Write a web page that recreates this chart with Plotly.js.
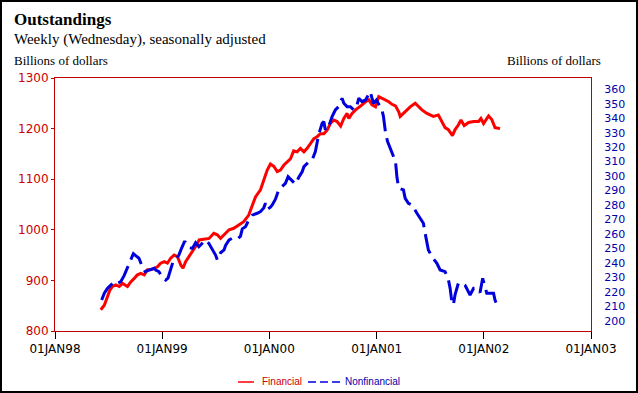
<!DOCTYPE html>
<html><head><meta charset="utf-8">
<script src="https://cdn.plot.ly/plotly-3.0.1.min.js"></script>
<style>html,body{margin:0;padding:0;background:#fff}#chart{width:638px;height:393px}</style>
</head><body><div id="chart"></div>
<script>
const seriesNames = ['Financial', 'Nonfinancial'];

const finDates = [
'1998-06-06','1998-06-18','1998-06-29','1998-07-07','1998-07-16','1998-07-27','1998-08-08','1998-08-19','1998-09-05','1998-09-16','1998-09-28','1998-10-09','1998-10-20','1998-11-01','1998-11-12','1998-11-23','1998-12-05','1998-12-16','1998-12-27',
'1999-01-08','1999-01-19','1999-01-30','1999-02-11','1999-02-22','1999-03-06','1999-03-13','1999-03-22','1999-04-03','1999-04-14','1999-04-25','1999-05-07','1999-05-23','1999-06-10','1999-06-26','1999-07-08','1999-07-19','1999-07-31','1999-08-17','1999-09-02','1999-09-19','1999-10-06','1999-10-23','1999-11-04','1999-11-15','1999-12-02','1999-12-13','1999-12-25',
'2000-01-05','2000-01-17','2000-01-28','2000-02-08','2000-02-20','2000-03-02','2000-03-13','2000-03-24','2000-04-05','2000-04-16','2000-04-28','2000-05-09','2000-05-20','2000-06-01','2000-06-12','2000-06-23','2000-07-05','2000-07-16','2000-07-27','2000-08-08','2000-08-19','2000-08-31','2000-09-11','2000-09-22','2000-09-28','2000-10-09','2000-10-21','2000-11-01','2000-11-12','2000-11-24','2000-12-05','2000-12-16','2000-12-28',
'2001-01-08','2001-01-19','2001-01-31','2001-02-11','2001-02-22','2001-03-06','2001-03-17','2001-03-22','2001-04-02','2001-04-14','2001-04-25','2001-05-12','2001-05-23','2001-06-04','2001-06-21','2001-07-02','2001-07-13','2001-07-30','2001-08-11','2001-08-22','2001-09-02','2001-09-16','2001-09-25','2001-10-06','2001-10-15','2001-10-26','2001-11-10','2001-11-27','2001-12-14','2001-12-22','2001-12-31',
'2002-01-17','2002-01-28','2002-02-08','2002-02-25'];
const finValues = [
842,851,868,881,888,891,888,894,888,897,904,911,914,911,921,921,924,927,934,
937,934,944,950,947,930,924,937,947,957,967,980,982,983,993,990,983,990,1000,1003,1009,1016,1029,1049,1065,1079,1098,1118,
1130,1125,1115,1118,1128,1135,1140,1156,1154,1161,1154,1161,1171,1180,1184,1190,1190,1197,1210,1217,1214,1205,1220,1230,1220,1230,1237,1243,1247,1253,1257,1247,1243,
1263,1260,1257,1253,1248,1245,1233,1224,1230,1237,1243,1250,1243,1237,1230,1227,1224,1227,1215,1202,1198,1186,1198,1207,1217,1206,1212,1214,1214,1220,1210,
1225,1218,1202,1200];

const nonfinDates = [
'1998-06-09','1998-06-18','1998-06-29','1998-07-10','1998-07-22','1998-08-02','1998-08-13','1998-08-24','1998-09-05','1998-09-16','1998-09-25','1998-10-03','1998-10-14','1998-10-26','1998-11-04','1998-11-17','1998-12-05','1998-12-10','1998-12-21',
'1999-01-02','1999-01-13','1999-01-21','1999-01-30','1999-02-07','1999-02-16','1999-02-27','1999-03-08','1999-03-19','1999-03-28','1999-04-02','1999-04-14','1999-04-25','1999-05-06','1999-05-18','1999-05-29','1999-06-09','1999-06-21','1999-07-02','1999-07-08','1999-07-19','1999-07-31','1999-08-05','1999-08-17','1999-08-28','1999-09-14','1999-09-25','1999-10-01','1999-10-12','1999-10-23','1999-11-04','1999-11-21','1999-12-02','1999-12-13','1999-12-19','1999-12-25',
'2000-01-05','2000-01-11','2000-01-22','2000-02-02','2000-02-14','2000-02-25','2000-03-05','2000-03-19','2000-03-30','2000-04-10','2000-04-22','2000-04-28','2000-05-15','2000-05-26','2000-06-06','2000-06-17','2000-06-29','2000-07-05','2000-07-10','2000-07-21','2000-08-02','2000-08-13','2000-08-24','2000-09-05','2000-09-11','2000-09-22','2000-10-03','2000-10-15','2000-10-26','2000-11-01','2000-11-12','2000-11-24','2000-12-01','2000-12-10','2000-12-16','2000-12-21','2000-12-31',
'2001-01-08','2001-01-19','2001-01-24','2001-01-31','2001-02-07','2001-02-16','2001-02-27','2001-03-06','2001-03-11','2001-03-17','2001-04-02','2001-04-08','2001-04-19','2001-05-01','2001-05-18','2001-05-29','2001-06-09','2001-06-15','2001-06-21','2001-06-26','2001-07-08','2001-07-25','2001-08-05','2001-08-22','2001-09-02','2001-09-08','2001-09-14','2001-09-19','2001-09-25','2001-10-01','2001-10-06','2001-10-18','2001-10-29','2001-11-15','2001-11-27','2001-12-08','2001-12-19','2001-12-28',
'2002-01-06','2002-01-11','2002-02-03','2002-02-08','2002-02-20'];
const nonfinValues = [
214.3,219,222.4,224.7,227,226,227,231,237.3,242,246.4,245,243.2,237,234,235,236.2,235,233.9,
229.8,228.1,229.5,236,240.8,242,245.4,250,255,252,250.5,250,254,251.2,253.3,255.8,253.5,249,245.4,242,247,249,252,255.8,257,256.5,258.5,263.5,265,269.6,273,274.3,275.4,278,281.2,277,
278.5,280,284,290.4,292.7,295,299.6,296.5,294.5,299,303,306.5,310,311.1,316.9,328.4,336.5,337.6,331.9,334.2,341.1,345.7,348,353.8,350.3,348,348,345.7,349.2,353.8,351.5,352.6,354.9,358.4,353.8,350.3,352.6,
349.2,345.7,341.1,330,323.8,319.2,314.6,310,299,291.6,290.4,284.6,281.2,280,274.3,270.8,267.4,260.4,253.5,248.9,244.3,239.7,235.1,233.9,228.5,222.5,213,211,218,223.5,225.9,226,224.5,217.8,222.4,222.5,219.5,229.3,
222.5,219,219,214.3,208.6];

const xTickVals = ['1998-01-01','1999-01-01','2000-01-01','2001-01-01','2002-01-01','2003-01-01'];
const xTickText = ['01JAN98','01JAN99','01JAN00','01JAN01','01JAN02','01JAN03'];
const leftTicks = [800,900,1000,1100,1200,1300];
const rightTicks = [200,210,220,230,240,250,260,270,280,290,300,310,320,330,340,350,360];

const titleText = 'Outstandings';
const subtitleText = 'Weekly (Wednesday), seasonally adjusted';
const unitText = 'Billions of dollars';

const RED = '#ff0000', BLUE = '#0000dd', FRAME = '#c00000';

const traces = [
  {x: finDates, y: finValues, name: seriesNames[0], type: 'scatter', mode: 'lines',
   line: {color: RED, width: 3}, yaxis: 'y'},
  {x: nonfinDates, y: nonfinValues, name: seriesNames[1], type: 'scatter', mode: 'lines',
   line: {color: BLUE, width: 3, dash: '20px,7px'}, yaxis: 'y2'}
];

const W = 536, H = 253, L = 55, T = 78;
const px = v => (v - L) / W;
const py = v => (T + H - v) / H;

const layout = {
  width: 638, height: 393,
  margin: {l: 55, r: 47, t: 78, b: 62},
  paper_bgcolor: '#fff', plot_bgcolor: '#fff',
  showlegend: false,
  xaxis: {type: 'date', range: ['1998-01-01', '2003-01-01'], tickvals: xTickVals, ticktext: xTickText,
    ticks: 'outside', ticklen: 7, tickcolor: '#000', tickwidth: 1,
    showline: true, linecolor: FRAME, linewidth: 1, mirror: true, showgrid: false, zeroline: false,
    tickfont: {family: 'DejaVu Sans', size: 12, color: '#000'}},
  yaxis: {range: [800, 1300], tickvals: leftTicks, ticks: 'outside', ticklen: 3, tickcolor: FRAME,
    showline: true, linecolor: FRAME, linewidth: 1, mirror: true, showgrid: false, zeroline: false,
    tickfont: {family: 'DejaVu Sans', size: 12, color: '#cc0000'}},
  yaxis2: {overlaying: 'y', side: 'right', range: [192.9, 367.8], tickvals: rightTicks,
    ticks: 'outside', ticklen: 10, tickcolor: 'rgba(0,0,0,0)', showline: false, showgrid: false, zeroline: false,
    tickfont: {family: 'DejaVu Sans', size: 11, color: '#0000aa'}},
  shapes: [
    {type: 'rect', xref: 'paper', yref: 'paper', x0: px(1), x1: px(637), y0: py(392), y1: py(1),
     line: {color: '#000', width: 2}},
    {type: 'line', xref: 'paper', yref: 'paper', x0: px(238), x1: px(254), y0: py(382), y1: py(382),
     line: {color: RED, width: 1.5}},
    {type: 'line', xref: 'paper', yref: 'paper', x0: px(308), x1: px(340), y0: py(382), y1: py(382),
     line: {color: BLUE, width: 1.5, dash: '8px,4px'}}
  ],
  annotations: [
    {text: '<b>' + titleText + '</b>', xref: 'paper', yref: 'paper', x: px(12), y: py(19), xanchor: 'left', yanchor: 'middle',
     showarrow: false, font: {family: 'Liberation Serif', size: 17, color: '#000'}},
    {text: subtitleText, xref: 'paper', yref: 'paper', x: px(12), y: py(40), xanchor: 'left', yanchor: 'middle',
     showarrow: false, font: {family: 'Liberation Serif', size: 15, color: '#000'}},
    {text: unitText, xref: 'paper', yref: 'paper', x: px(12), y: py(61), xanchor: 'left', yanchor: 'middle',
     showarrow: false, font: {family: 'Liberation Serif', size: 13, color: '#000'}},
    {text: unitText, xref: 'paper', yref: 'paper', x: px(603), y: py(61), xanchor: 'right', yanchor: 'middle',
     showarrow: false, font: {family: 'Liberation Serif', size: 13, color: '#000'}},
    {text: seriesNames[0], xref: 'paper', yref: 'paper', x: px(260), y: py(381), xanchor: 'left', yanchor: 'middle',
     showarrow: false, font: {family: 'Liberation Sans', size: 10, color: '#cc0000'}},
    {text: seriesNames[1], xref: 'paper', yref: 'paper', x: px(343), y: py(381), xanchor: 'left', yanchor: 'middle',
     showarrow: false, font: {family: 'Liberation Sans', size: 10, color: '#0000aa'}}
  ]
};

Plotly.newPlot('chart', traces, layout, {staticPlot: true, displayModeBar: false});
</script>
</body></html>
